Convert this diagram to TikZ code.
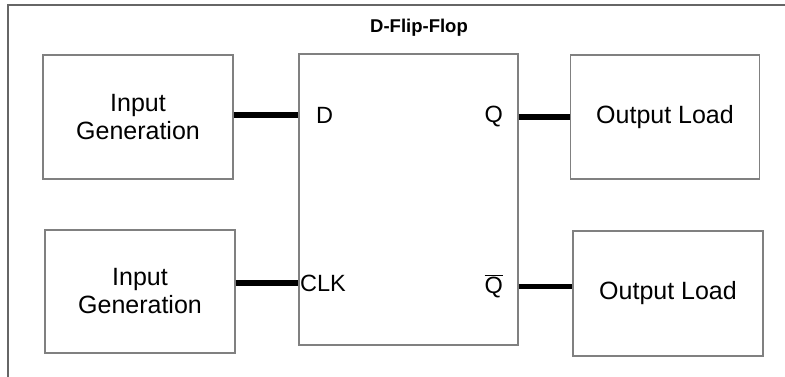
\documentclass[tikz,border=0pt]{standalone}
\usepackage{fontspec}
\setmainfont{Liberation Sans}
\usepackage{tikz}
\usetikzlibrary{positioning}

\begin{document}
\begin{tikzpicture}[x=1pt, y=-1pt, block/.style={rectangle, draw=black!50, line width=1.3pt, minimum width=190pt, minimum height=124pt, inner sep=0pt, align=center, font=\fontsize{25}{28}\selectfont}, flipflop/.style={rectangle, draw=black!50, line width=1.3pt, minimum width=219pt, minimum height=291pt, inner sep=0pt}, pin/.style={inner sep=0pt, font=\fontsize{23.5}{26}\selectfont}, wire/.style={line width=5.5pt}]
    \useasboundingbox (0,0) rectangle (785,377);

    %Frame
    \draw[black!60, line width=1.3pt] (8,377) -- (8,5) -- (785,5);

    %Nodes
    \node[font=\bfseries\fontsize{18.5}{20}\selectfont](title) at (419,28){D-Flip-Flop};
    \node[flipflop](ff) at (408.5,199.5){};
    \node[block](gen_d) at (138,117){Input\\Generation};
    \node[block, minimum height=123pt](gen_clk) at (140,291.5){Input\\Generation};
    \node[block, minimum width=189pt](load_q) at (665,117){Output Load};
    \node[block, minimum height=125pt](load_qbar) at (668,293.5){Output Load};
    \node[pin, anchor=west](d) at (316,115){D};
    \node[pin, anchor=west](clk) at (300,283){CLK};
    \node[pin, anchor=east](q) at (503,117){Q};
    \node[pin, anchor=east](qbar) at (503,286.5){$\overline{\hbox{Q}}$};

    %Lines
    \draw[wire] (d.west -| gen_d.east) -- (d.west -| ff.west);
    \draw[wire] (clk.west -| gen_clk.east) -- (clk.west -| ff.west);
    \draw[wire, yshift=2pt] (q.east -| ff.east) -- (q.east -| load_q.west);
    \draw[wire] (qbar.east -| ff.east) -- (qbar.east -| load_qbar.west);

\end{tikzpicture}
\end{document}
